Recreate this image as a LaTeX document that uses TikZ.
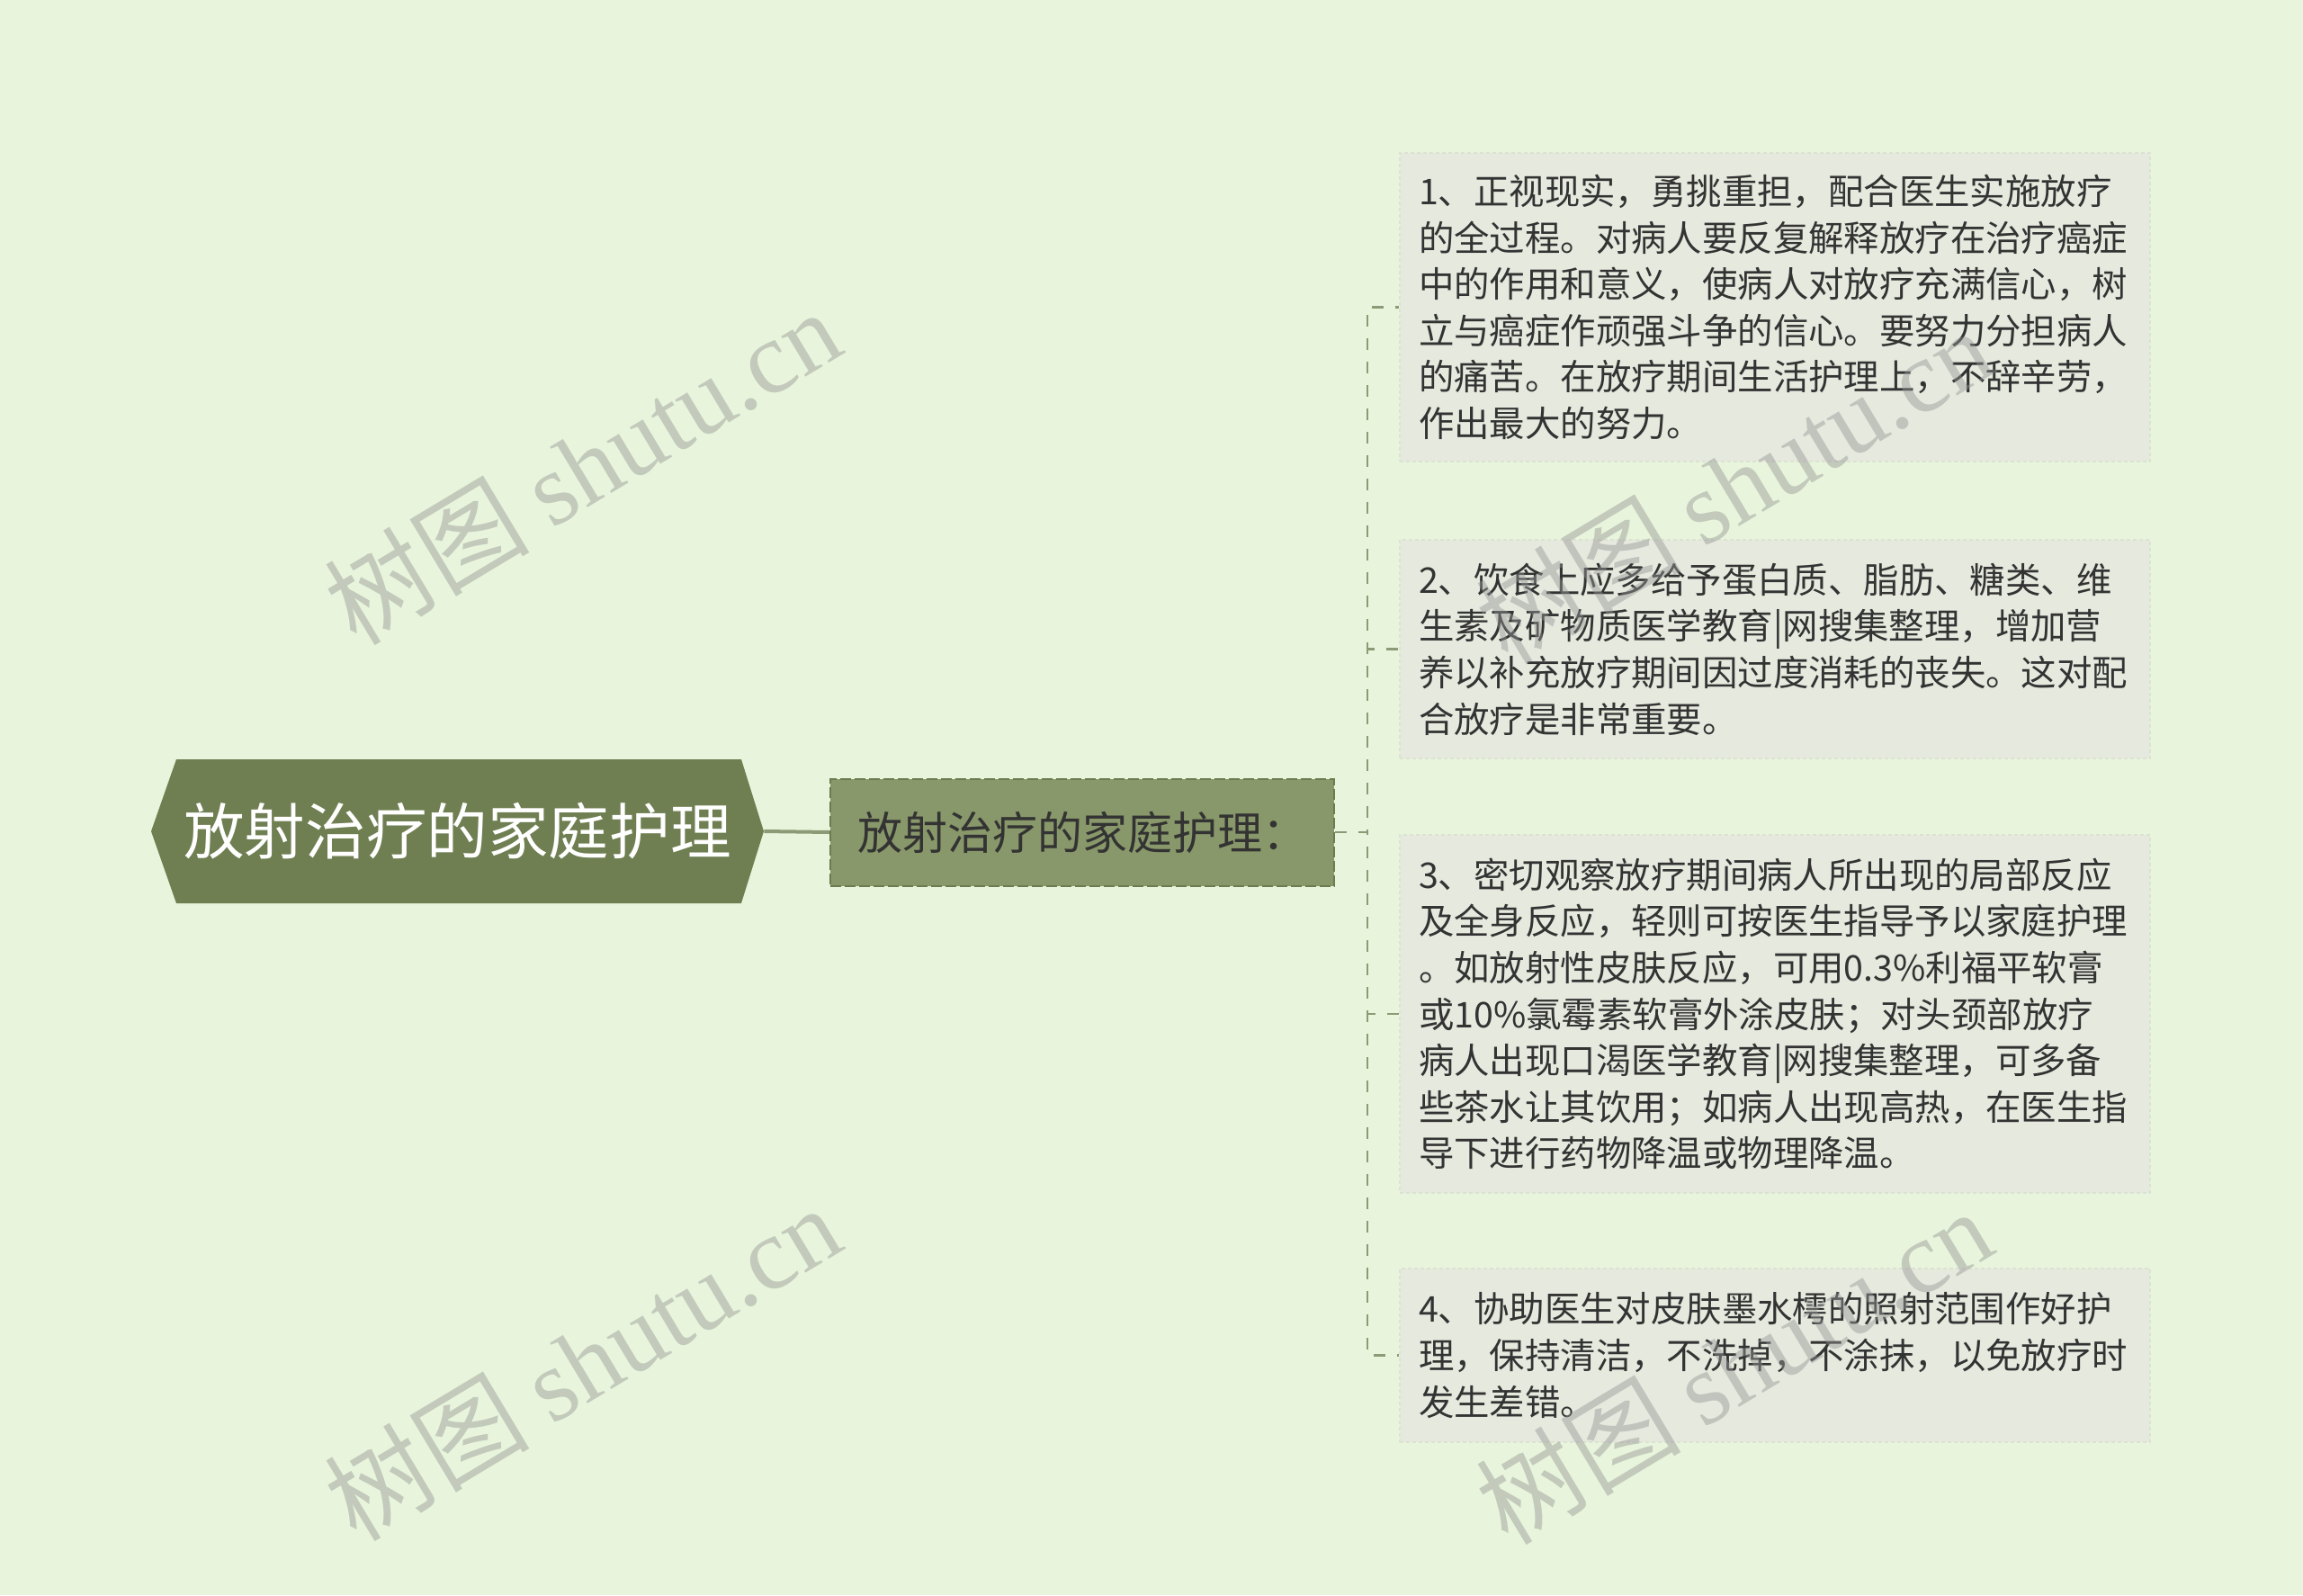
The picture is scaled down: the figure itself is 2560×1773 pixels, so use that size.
\documentclass[tikz,border=0pt]{standalone}
\usepackage{fontspec}
\setmainfont{Noto Sans CJK SC}
\newfontfamily\wmlatin{Liberation Serif}
\usetikzlibrary{calc}
\definecolor{bgc}{RGB}{232,245,220}
\definecolor{rootc}{RGB}{111,127,82}
\definecolor{subc}{RGB}{136,152,106}
\definecolor{subline}{RGB}{108,124,80}
\definecolor{leafc}{RGB}{230,233,222}
\definecolor{leafline}{RGB}{220,226,210}
\definecolor{linec}{RGB}{140,154,118}
\definecolor{txt}{RGB}{51,51,51}
\definecolor{wmc}{RGB}{150,150,150}
\begin{document}
\begin{tikzpicture}[x=0.5pt,y=-0.5pt,
  rootbox/.style={minimum width=340.5pt, minimum height=80pt, inner sep=0pt,
    text=white, font=\fontsize{33.8pt}{40pt}\selectfont,
    path picture={\fill[rootc] (path picture bounding box.west)
      -- ([xshift=14pt]path picture bounding box.north west)
      -- ([xshift=-12.5pt]path picture bounding box.north east)
      -- (path picture bounding box.east)
      -- ([xshift=-12.5pt]path picture bounding box.south east)
      -- ([xshift=14pt]path picture bounding box.south west) -- cycle;}},
  subbox/.style={minimum width=280pt, minimum height=59.5pt, inner sep=0pt,
    fill=subc, draw=subline, line width=1pt, dash pattern=on 6pt off 2pt,
    text=txt, font=\fontsize{25pt}{30pt}\selectfont},
  leafbox/.style={minimum width=417pt, inner xsep=10.5pt, inner ysep=0pt,
    text width=396pt, align=left, fill=leafc, draw=leafline, line width=0.6pt,
    dash pattern=on 2pt off 1.5pt, text=txt,
    font=\fontsize{19.7pt}{25.8pt}\selectfont},
  rootline/.style={draw=linec, line width=2pt},
  branch/.style={draw=linec, line width=1.2pt, dash pattern=on 6.5pt off 6.5pt},
  wmark/.style={text=wmc, text opacity=0.45, rotate=31, inner sep=0pt,
    font=\fontsize{57pt}{60pt}\selectfont}
]
\fill[bgc] (0,0) rectangle (2560,1773);
\useasboundingbox (0,0) rectangle (2560,1773);

\node[rootbox] (root) at (508.5,924) {放射治疗的家庭护理};
\node[subbox] (sub) at (1203,925) {放射治疗的家庭护理：};

\node[leafbox, minimum height=171.5pt] (leaf1) at (1973,341.5) {1、正视现实，勇挑重担，配合医生实施放疗\\的全过程。对病人要反复解释放疗在治疗癌症\\中的作用和意义，使病人对放疗充满信心，树\\立与癌症作顽强斗争的信心。要努力分担病人\\的痛苦。在放疗期间生活护理上，不辞辛劳，\\作出最大的努力。};
\node[leafbox, minimum height=121.5pt] (leaf2) at (1973,721.5) {2、饮食上应多给予蛋白质、脂肪、糖类、维\\生素及矿物质医学教育|网搜集整理，增加营\\养以补充放疗期间因过度消耗的丧失。这对配\\合放疗是非常重要。};
\node[leafbox, minimum height=199pt] (leaf3) at (1973,1127) {3、密切观察放疗期间病人所出现的局部反应\\及全身反应，轻则可按医生指导予以家庭护理\\。如放射性皮肤反应，可用0.3\%利福平软膏\\或10\%氯霉素软膏外涂皮肤；对头颈部放疗\\病人出现口渴医学教育|网搜集整理，可多备\\些茶水让其饮用；如病人出现高热，在医生指\\导下进行药物降温或物理降温。};
\node[leafbox, minimum height=96.5pt] (leaf4) at (1973,1506.5) {4、协助医生对皮肤墨水樗的照射范围作好护\\理，保持清洁，不洗掉，不涂抹，以免放疗时\\发生差错。};

\coordinate (fork) at (1520,925);
\draw[rootline] (root.east) -- (sub.west);
\foreach \k in {1,2,3,4}{
  \draw[branch] (sub.east) -- (fork) |- (leaf\k.west);
}

\node[wmark] (wm1) at (647,518) {树图 {\wmlatin shutu.cn}};
\node[wmark] (wm2) at (647,1514) {树图 {\wmlatin shutu.cn}};
\node[wmark] (wm3) at (1927,539) {树图 {\wmlatin shutu.cn}};
\node[wmark] (wm4) at (1927,1518) {树图 {\wmlatin shutu.cn}};
\end{tikzpicture}
\end{document}
